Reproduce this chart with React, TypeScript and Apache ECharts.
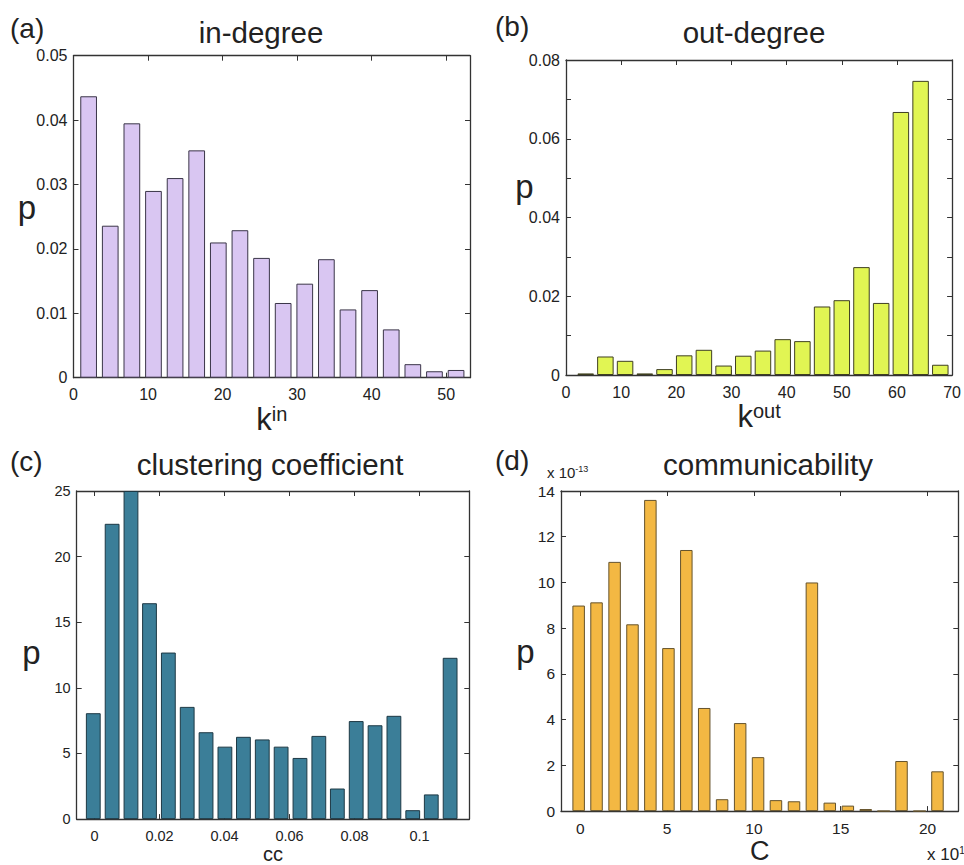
import React, { useEffect, useRef } from "react";
import * as echarts from "echarts";

const FONT = '"Liberation Sans", Arial, Helvetica, sans-serif';

// (a) in-degree
const inCenters = [2.03, 4.93, 7.83, 10.73, 13.63, 16.53, 19.43, 22.33, 25.23, 28.13, 31.03, 33.93, 36.83, 39.73, 42.63, 45.53, 48.43, 51.33];
const inValues = [0.0437, 0.0236, 0.0395, 0.029, 0.031, 0.0353, 0.021, 0.0229, 0.0186, 0.0116, 0.0146, 0.0184, 0.0106, 0.0136, 0.0075, 0.0021, 0.001, 0.0012];
const inXTicks = [0, 10, 20, 30, 40, 50];
const inYTicks = [0, 0.01, 0.02, 0.03, 0.04, 0.05];

// (b) out-degree
const outCenters = [3.57, 7.14, 10.71, 14.29, 17.86, 21.43, 25.0, 28.57, 32.14, 35.71, 39.29, 42.86, 46.43, 50.0, 53.57, 57.14, 60.71, 64.29, 67.86];
const outValues = [0.0004, 0.0047, 0.0036, 0.0004, 0.0015, 0.005, 0.0064, 0.0024, 0.0049, 0.0062, 0.0091, 0.0086, 0.0174, 0.019, 0.0274, 0.0183, 0.0668, 0.0747, 0.0026];
const outXTicks = [0, 10, 20, 30, 40, 50, 60, 70];
const outYTicks = [0, 0.01, 0.02, 0.03, 0.04, 0.05, 0.06, 0.07, 0.08];
const outYLabels = [0, 0.02, 0.04, 0.06, 0.08];

// (c) clustering coefficient
const ccCenters = [-0.0004, 0.0054, 0.0112, 0.0169, 0.0227, 0.0285, 0.0343, 0.0401, 0.0458, 0.0516, 0.0574, 0.0632, 0.069, 0.0747, 0.0805, 0.0863, 0.0921, 0.0979, 0.1036, 0.1094];
const ccValues = [8.07, 22.5, 25, 16.45, 12.69, 8.55, 6.62, 5.52, 6.27, 6.07, 5.52, 4.66, 6.34, 2.33, 7.47, 7.15, 7.87, 0.68, 1.88, 12.29];
const ccXTicks = [0, 0.02, 0.04, 0.06, 0.08, 0.1];
const ccYTicks = [0, 5, 10, 15, 20, 25];

// (d) communicability (x in units of 10^1, y in units of 10^-13)
const commCenters = [-0.09, 0.94, 1.98, 3.01, 4.04, 5.08, 6.11, 7.14, 8.17, 9.21, 10.24, 11.27, 12.31, 13.34, 14.37, 15.41, 16.44, 17.47, 18.5, 19.54, 20.57];
const commValues = [8.99, 9.13, 10.9, 8.17, 13.61, 7.13, 11.42, 4.51, 0.52, 3.85, 2.36, 0.48, 0.43, 10.0, 0.37, 0.24, 0.09, 0, 2.19, 0, 1.74];
const commXTicks = [0, 5, 10, 15, 20];
const commYTicks = [0, 2, 4, 6, 8, 10, 12, 14];

const AX = "#333";
const TXT = "#222";
const fmt = (v: number) => String(+Number(v).toFixed(4));

function mkAxes(
  gi: number,
  dir: "x" | "y",
  min: number,
  max: number,
  ticks: number[],
  labels: number[],
  labelSize: number,
  name: string,
  nameGap: number,
  nameStyle: any
) {
  const posMain = dir === "x" ? "bottom" : "left";
  const posSec = dir === "x" ? "top" : "right";
  const base = {
    gridIndex: gi,
    type: "value",
    min,
    max,
    splitLine: { show: false },
    axisLine: { show: true, onZero: false, lineStyle: { color: AX, width: 1.3 } },
    axisTick: { show: true, inside: true, length: 5, customValues: ticks, lineStyle: { color: AX, width: 1 } },
  };
  return [
    {
      ...base,
      position: posMain,
      axisLabel: {
        show: true,
        customValues: labels,
        margin: dir === "x" ? 9 : 6,
        fontSize: labelSize,
        color: TXT,
        fontFamily: FONT,
        formatter: fmt,
      },
      name,
      nameLocation: "middle",
      nameGap,
      nameRotate: 0,
      nameTextStyle: nameStyle,
    },
    {
      ...base,
      position: posSec,
      axisLabel: { show: false },
    },
  ];
}

const supName = (big: number, small: number) => ({
  fontFamily: FONT,
  color: TXT,
  rich: {
    k: { fontSize: big, fontFamily: FONT, color: TXT, verticalAlign: "bottom" },
    s: { fontSize: small, fontFamily: FONT, color: TXT, verticalAlign: "top" },
  },
});

export default function App() {
  const ref = useRef<HTMLDivElement>(null);

  useEffect(() => {
    if (!ref.current) return;
    const chart = echarts.init(ref.current, null, { renderer: "svg" });

    const grids = [
      { left: 73.5, top: 55.7, width: 396.5, height: 322 },
      { left: 566, top: 60, width: 387, height: 315 },
      { left: 76.7, top: 491, width: 392.6, height: 332.3 },
      { left: 561, top: 491, width: 397.3, height: 324 },
    ];

    const xAxes = [
      ...mkAxes(0, "x", 0, 53.2, inXTicks, inXTicks, 16, "{k|k}{s|in}", 18, supName(31, 20)),
      ...mkAxes(1, "x", 0, 70, outXTicks, outXTicks, 16, "{k|k}{s|out}", 18, supName(31, 20)),
      ...mkAxes(2, "x", -0.0055, 0.1153, ccXTicks, ccXTicks, 14.5, "cc", 22, { fontSize: 20, fontFamily: FONT, color: TXT }),
      ...mkAxes(3, "x", -1.106, 21.77, commXTicks, commXTicks, 15.5, "C", 24, { fontSize: 27, fontFamily: FONT, color: TXT }),
    ];
    const yAxes = [
      ...mkAxes(0, "y", 0, 0.05, inYTicks, inYTicks, 16, "", 0, {}),
      ...mkAxes(1, "y", 0, 0.08, outYTicks, outYLabels, 16, "", 0, {}),
      ...mkAxes(2, "y", 0, 25, ccYTicks, ccYTicks, 14.5, "", 0, {}),
      ...mkAxes(3, "y", 0, 14, commYTicks, commYTicks, 15.5, "", 0, {}),
    ];

    const mkSeries = (gi: number, centers: number[], values: number[], fill: string, border: string, bw: number) => ({
      type: "bar",
      xAxisIndex: gi * 2,
      yAxisIndex: gi * 2,
      barWidth: bw,
      data: centers.map((c, i) => [c, values[i]]),
      itemStyle: { color: fill, borderColor: border, borderWidth: 1 },
      clip: true,
    });

    const txt = (x: number, y: number, text: string, size: number, align = "left") => ({
      type: "text",
      x,
      y,
      style: {
        text,
        fontSize: size,
        fontFamily: FONT,
        fill: TXT,
        align,
        verticalAlign: "middle",
      },
    });

    chart.setOption({
      animation: false,
      backgroundColor: "#fff",
      grid: grids,
      xAxis: xAxes,
      yAxis: yAxes,
      series: [
        mkSeries(0, inCenters, inValues, "#d9c6f2", "#3a3548", 16.7),
        mkSeries(1, outCenters, outValues, "#e1f553", "#3f3f22", 16.5),
        mkSeries(2, ccCenters, ccValues, "#3b7e98", "#1d3844", 14.8),
        mkSeries(3, commCenters, commValues, "#f3b843", "#65532c", 12.5),
      ],
      graphic: [
        txt(10, 28, "(a)", 28),
        txt(495, 26, "(b)", 28),
        txt(10, 461, "(c)", 28),
        txt(495, 460, "(d)", 28),
        txt(261, 32, "in-degree", 29.5, "center"),
        txt(754, 32, "out-degree", 29.5, "center"),
        txt(270, 464, "clustering coefficient", 29.5, "center"),
        txt(768, 464, "communicability", 29.5, "center"),
        txt(27, 207, "p", 33, "center"),
        txt(524.5, 186, "p", 33, "center"),
        txt(31.5, 652, "p", 33, "center"),
        txt(525.5, 651, "p", 33, "center"),
        {
          type: "text",
          x: 547,
          y: 472,
          style: {
            text: "{a|x 10}{s|-13}",
            fontFamily: FONT,
            fill: TXT,
            verticalAlign: "middle",
            rich: {
              a: { fontSize: 15, fontFamily: FONT, fill: TXT, verticalAlign: "bottom" },
              s: { fontSize: 9, fontFamily: FONT, fill: TXT, verticalAlign: "top" },
            },
          },
        },
        {
          type: "text",
          x: 927,
          y: 854,
          style: {
            text: "{a|x 10}{s|1}",
            fontFamily: FONT,
            fill: TXT,
            verticalAlign: "middle",
            rich: {
              a: { fontSize: 17, fontFamily: FONT, fill: TXT, verticalAlign: "bottom" },
              s: { fontSize: 10, fontFamily: FONT, fill: TXT, verticalAlign: "top" },
            },
          },
        },
      ],
    });

    return () => chart.dispose();
  }, []);

  return (
    <div
      ref={ref}
      style={{ position: "absolute", left: 0, top: 0, width: 964, height: 865 }}
    />
  );
}
